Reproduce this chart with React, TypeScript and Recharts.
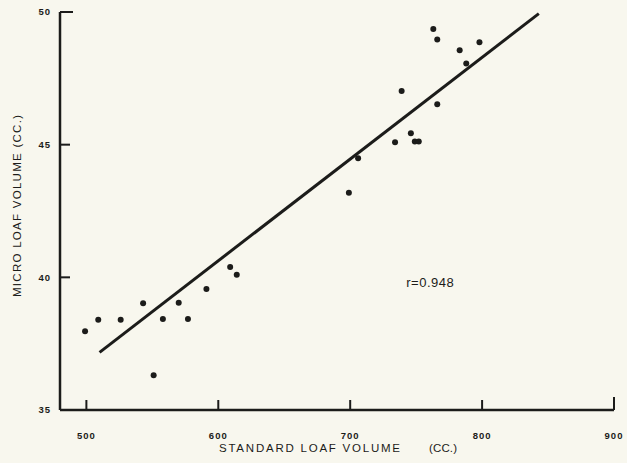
import React from "react";
import {
  ReferenceDot,
  ReferenceLine,
  Scatter,
  ScatterChart,
  XAxis,
  YAxis,
} from "recharts";

// standard loaf volume (cc) vs micro loaf volume (cc)
const standardVolume = [
  499, 509, 526, 543, 551, 558, 570, 577, 591, 609, 614, 699, 706, 734, 739,
  746, 749, 752, 766, 763, 766, 783, 788, 798,
];
const microVolume = [
  37.97, 38.4, 38.4, 39.02, 36.31, 38.43, 39.04, 38.43, 39.56, 40.39, 40.1,
  43.19, 44.49, 45.09, 47.02, 45.43, 45.12, 45.12, 46.52, 49.36, 48.96, 48.56,
  48.06, 48.86,
];
const xTicks = [500, 600, 700, 800, 900];
const yTicks = [35, 40, 45, 50];

// fitted line, drawn between these x values
const fitSlope = 0.03834;
const fitIntercept = 17.62;
const fitRange = [510, 843];
const rLabel = "r=0.948";

const X_DOMAIN = [480, 900];
const Y_DOMAIN = [35, 50];

const points = standardVolume.map((x, i) => ({ x, y: microVolume[i] }));
const fitSegment = fitRange.map((x) => ({ x, y: fitIntercept + fitSlope * x }));
// anchor points for the inward tick marks
const xTickMarks = xTicks.map((x) => ({ x, y: Y_DOMAIN[0], last: x === xTicks[xTicks.length - 1] }));
const yTickMarks = yTicks.map((y) => ({ x: X_DOMAIN[0], y, last: y === yTicks[yTicks.length - 1] }));

const INK = "#1c1c1a";
const BG = "#f8f7ee";
const FONT = "'Liberation Sans', Arial, sans-serif";

const tickFont = {
  fontFamily: FONT,
  fontSize: 9.5,
  fontWeight: 700,
  letterSpacing: 1,
  fill: INK,
};

const Dot = (props: any) => <circle cx={props.cx} cy={props.cy} r={3} fill={INK} />;

const XTickMark = (props: any) => (
  <path
    d={`M${props.cx},${props.cy}V${props.cy - (props.payload?.last ? 13 : 10)}`}
    stroke={INK}
    strokeWidth={2}
    fill="none"
  />
);

const YTickMark = (props: any) => (
  <rect
    x={props.cx}
    y={props.cy - 1}
    width={props.payload?.last ? 13 : 10}
    height={2}
    fill={INK}
  />
);

const XTitle = (props: any) => {
  const { viewBox } = props;
  const y = viewBox.y + 42;
  return (
    <g fontFamily={FONT} fontSize={11.5} fill={INK}>
      <text x={viewBox.x + 159} y={y} textLength={181} lengthAdjust="spacing">
        STANDARD LOAF VOLUME
      </text>
      <text x={viewBox.x + 369} y={y} textLength={28} lengthAdjust="spacing">
        (CC.)
      </text>
    </g>
  );
};

const YTitle = (props: any) => {
  const { viewBox } = props;
  const cx = 17;
  const cy = viewBox.y + 194;
  return (
    <text
      x={cx}
      y={cy}
      transform={`rotate(-90 ${cx} ${cy})`}
      textAnchor="middle"
      dy="0.35em"
      fontFamily={FONT}
      fontSize={11.5}
      fill={INK}
      textLength={182}
      lengthAdjust="spacing"
    >
      MICRO LOAF VOLUME (CC.)
    </text>
  );
};

export default function App() {
  return (
    <div style={{ position: "absolute", left: 0, top: 0, width: 627, height: 463, background: BG }}>
      <ScatterChart width={627} height={463} margin={{ top: 12, right: 13, left: 0, bottom: 0 }}>
        <XAxis
          type="number"
          dataKey="x"
          domain={X_DOMAIN}
          ticks={xTicks}
          tickSize={0}
          tickMargin={22}
          tickLine={false}
          tick={tickFont}
          height={53}
          axisLine={{ stroke: INK, strokeWidth: 2.5 }}
          label={<XTitle />}
        />
        <YAxis
          type="number"
          dataKey="y"
          domain={Y_DOMAIN}
          ticks={yTicks}
          tickSize={0}
          tickMargin={9}
          tickLine={false}
          tick={tickFont}
          width={60}
          axisLine={{ stroke: INK, strokeWidth: 2.5 }}
          label={<YTitle />}
        />
        <Scatter data={xTickMarks} shape={<XTickMark />} isAnimationActive={false} />
        <Scatter data={yTickMarks} shape={<YTickMark />} isAnimationActive={false} />
        <ReferenceLine segment={fitSegment} stroke={INK} strokeWidth={3} ifOverflow="visible" />
        <Scatter data={points} fill={INK} shape={<Dot />} isAnimationActive={false} />
        <ReferenceDot
          x={741}
          y={39.8}
          r={0}
          fill="none"
          stroke="none"
          label={{ value: rLabel, position: "center", fontFamily: FONT, fontSize: 13, letterSpacing: 0.5, fill: INK, dx: 26 } as any}
        />
      </ScatterChart>
    </div>
  );
}
